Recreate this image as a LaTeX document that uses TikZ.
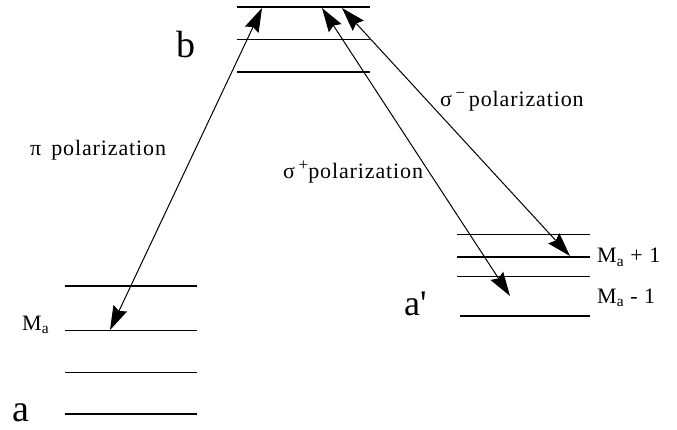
\documentclass[tikz,border=0pt]{standalone}
\usepackage{fontspec}
\setmainfont{Liberation Serif}
\usetikzlibrary{arrows.meta}
\newcommand{\mysup}[1]{\raisebox{0.75ex}{\fontsize{17}{17}\selectfont #1}}
\begin{document}
\begin{tikzpicture}[x=1pt,y=-1pt,
  thick level/.style={line width=2.4pt},
  thin level/.style={line width=1pt},
  photon/.style={line width=1pt,{Stealth[length=24pt,width=15pt,inset=3pt]}-{Stealth[length=24pt,width=15pt,inset=3pt]}},
  lbl/.style={font=\fontsize{22}{24}\selectfont\addfontfeature{LetterSpace=4}, inner sep=0pt},
  big/.style={font=\fontsize{38}{40}\selectfont, inner sep=0pt}]
\useasboundingbox (0,0) rectangle (677,430);
% b levels
\draw[thick level] (237,7) -- (370,7);
\draw[thin level] (237,40) -- (370,40);
\draw[thick level] (237,72) -- (370,72);
% a levels
\draw[thick level] (65,286) -- (197,286);
\draw[thin level] (65,330) -- (197,330);
\draw[thin level] (65,372) -- (197,372);
\draw[thick level] (65,414) -- (197,414);
% a' levels
\draw[thin level] (457,235) -- (590,235);
\draw[thick level] (457,257) -- (590,257);
\draw[thin level] (457,277) -- (590,277);
\draw[thick level] (460,316) -- (590,316);
% coordinates
\coordinate (bpi) at (262,8);
\coordinate (api) at (110,330);
\coordinate (bsp) at (322,8);
\coordinate (asp) at (510,296);
\coordinate (bsm) at (342,8);
\coordinate (asm) at (570,256);
\draw[photon] (api) -- (bpi);
\draw[photon] (asp) -- (bsp);
\draw[photon] (asm) -- (bsm);
% labels
\node[big, anchor=base] (b) at (186,58) {b};
\node[big, anchor=base] (a) at (21,421) {a};
\node[big, font=\fontsize{36}{38}\selectfont, anchor=base west] (ap) at (404,315) {a\textquotesingle};
\node[lbl, anchor=west] (pi) at (30,150) {π\, polarization};
\node[lbl, anchor=west] (sp) at (283,172) {σ\,\mysup{+}polarization};
\node[lbl, anchor=west] (sm) at (440,101) {σ\,\mysup{−}\,polarization};
\node[lbl, anchor=base west] (ma) at (22,330) {M$_{\mathrm{a}}$};
\node[lbl, anchor=base west] (map) at (597,263) {M$_{\mathrm{a}}$ + 1};
\node[lbl, anchor=base west] (mam) at (597,303) {M$_{\mathrm{a}}$ - 1};
\end{tikzpicture}
\end{document}
